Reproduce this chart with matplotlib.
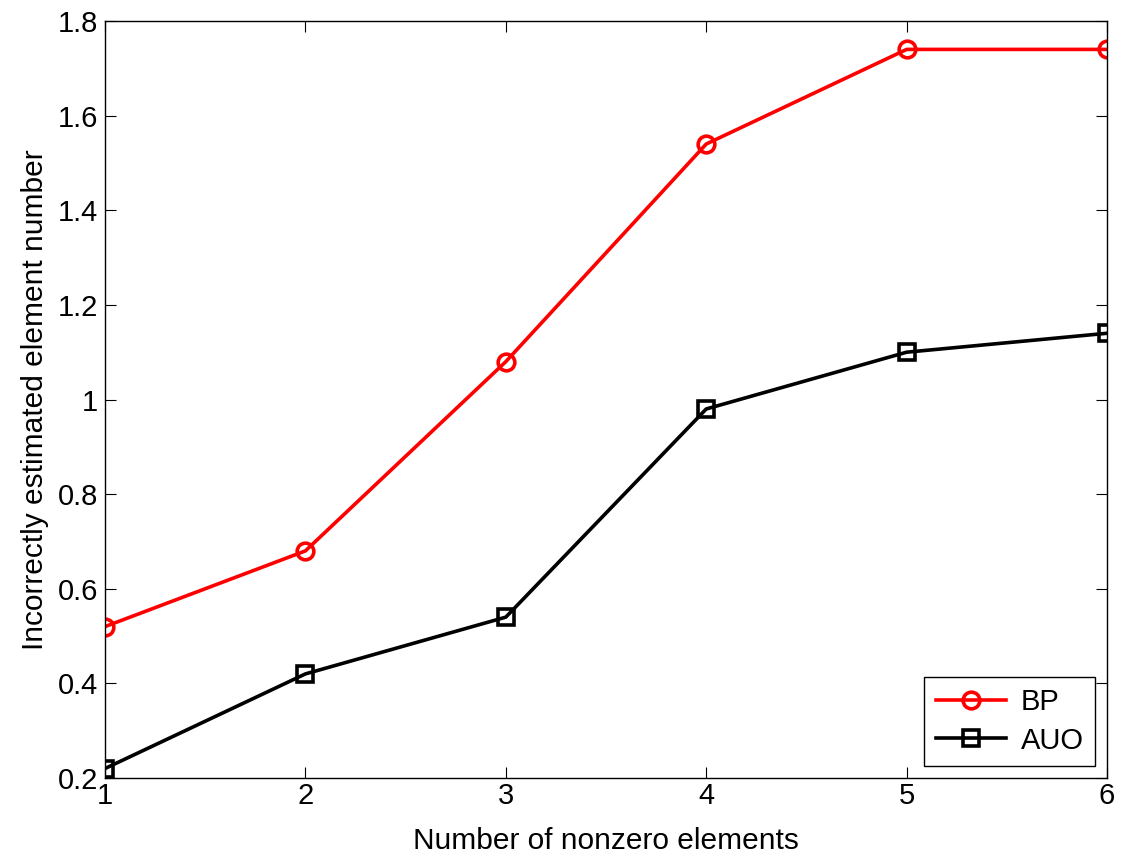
import matplotlib
matplotlib.use("Agg")
from matplotlib import pyplot as plt

plt.rcParams['font.family'] = ['Liberation Sans', 'DejaVu Sans']

x = [1, 2, 3, 4, 5, 6]
bp = [0.52, 0.68, 1.08, 1.54, 1.74, 1.74]
auo = [0.22, 0.42, 0.54, 0.98, 1.10, 1.14]

fig = plt.figure(figsize=(11.23, 8.61), dpi=100)
ax = fig.add_axes([0.0935, 0.0964, 0.8923, 0.8792])

ax.plot(x, bp, color="red", linestyle="-", linewidth=2.6, marker="o", markersize=12,
        markerfacecolor="none", markeredgewidth=2.6, label="BP")
ax.plot(x, auo, color="black", linestyle="-", linewidth=2.6, marker="s", markersize=11,
        markerfacecolor="none", markeredgewidth=2.6, label="AUO")

ax.set_xlim(1, 6)
ax.set_ylim(0.2, 1.8)
ax.set_xticks([1, 2, 3, 4, 5, 6])
ax.set_yticks([0.2, 0.4, 0.6, 0.8, 1.0, 1.2, 1.4, 1.6, 1.8])
ax.set_yticklabels(["0.2", "0.4", "0.6", "0.8", "1", "1.2", "1.4", "1.6", "1.8"])
ax.tick_params(direction="in", top=True, right=True, length=8, width=0.8, labelsize=21, pad=5)
ax.tick_params(axis="x", pad=3)
for s in ax.spines.values():
    s.set_linewidth(1.0)

ax.set_xlabel("Number of nonzero elements", fontsize=21.5, labelpad=12)
ax.set_ylabel("Incorrectly estimated element number", fontsize=21.5, labelpad=6)

leg = ax.legend(loc="lower right", fontsize=21, fancybox=False, edgecolor="black",
                framealpha=1, handlelength=2.4, handletextpad=0.5, borderaxespad=0.4,
                borderpad=0.4, labelspacing=0.35)
leg.get_frame().set_linewidth(1.0)

fig.savefig("out.png", dpi=100)
